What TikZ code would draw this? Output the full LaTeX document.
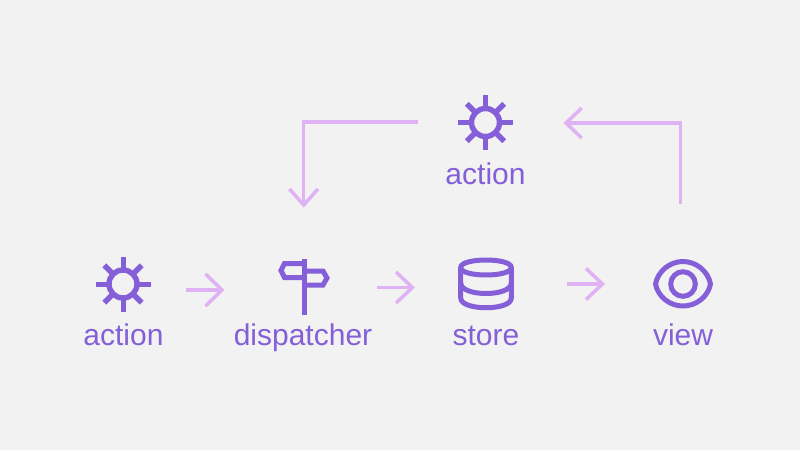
\documentclass[tikz,border=0pt]{standalone}
\usepackage{fontspec}
\setmainfont{Liberation Sans}
\definecolor{bgc}{HTML}{F2F2F2}
\definecolor{iconc}{HTML}{845FD8}
\definecolor{arrc}{HTML}{DFB2F4}
\tikzset{
  x=1pt,y=-1pt,
  icon/.style={draw=iconc,line width=5pt},
  lbl/.style={text=iconc,anchor=base,inner sep=0pt,font=\fontsize{30}{33}\selectfont},
  flow/.style={draw=arrc,line width=3.5pt,line join=miter},
  sun/.pic={
    \draw[icon,line width=5.4pt] (0,0) circle (14);
    \foreach \a in {0,90,180,270}{\draw[icon] (\a:14) -- (\a:27.5);}
    \foreach \a in {45,135,225,315}{\draw[icon,line width=5.6pt] (\a:14) -- (\a:26.5);}
  }
}
\begin{document}
\begin{tikzpicture}
\path[fill=bgc] (0,0) rectangle (800,450);
\useasboundingbox (0,0) rectangle (800,450);
% icons
\pic at (123,284) {sun};
\pic at (485.5,122.5) {sun};
\draw[icon,line join=miter] (304,259) -- (304,315);
\draw[icon,line join=miter] (304,263.5) -- (284.5,263.5) -- (281,270.5) -- (284.5,277.5) -- (304,277.5);
\draw[icon,line join=miter] (304,271) -- (323,271) -- (327,278) -- (323,285) -- (304,285);
% store
\draw[icon] (460.7,267.5) .. controls (460.7,257.5) and (511.3,257.5) .. (511.3,267.5) .. controls (511.3,277.5) and (460.7,277.5) .. (460.7,267.5) -- cycle;
\draw[icon,line join=round] (460.7,267.5) -- (460.7,298) .. controls (460.7,311) and (511.3,311) .. (511.3,298) -- (511.3,267.5);
\draw[icon] (460.7,283) .. controls (460.7,297) and (511.3,297) .. (511.3,283);
% eye
\draw[icon,line join=round] (655.5,284) .. controls (658,271) and (670,261.5) .. (683,261.5) .. controls (696,261.5) and (708,271) .. (710.5,284) .. controls (708,297) and (696,306) .. (683,306) .. controls (670,306) and (658,297) .. (655.5,284) -- cycle;
\draw[icon] (683,284) circle (12.3);
% labels
\node[lbl] (actionA) at (123.5,345) {action};
\node[lbl] (dispatcher) at (303,345) {dispatcher};
\node[lbl] (store) at (486,345) {store};
\node[lbl] (view) at (683,345) {view};
\node[lbl] (actionB) at (485.5,184) {action};
% connectors
\coordinate (a1s) at (186,290); \coordinate (a1e) at (222,290);
\coordinate (a2s) at (377,287.5); \coordinate (a2e) at (412.5,287.5);
\coordinate (a3s) at (567,284); \coordinate (a3e) at (602.5,284);
\coordinate (l1) at (418,122); \coordinate (l2) at (303.7,122); \coordinate (l3) at (303.7,205);
\coordinate (r1) at (680.5,204); \coordinate (r2) at (680.5,123); \coordinate (r3) at (566,123);
\draw[flow] (a1s) -- (a1e); \draw[flow] (205.5,274) -- (a1e) -- (205.5,306);
\draw[flow] (a2s) -- (a2e); \draw[flow] (396,272) -- (a2e) -- (396,303);
\draw[flow] (a3s) -- (a3e); \draw[flow] (586,268.5) -- (a3e) -- (586,299.5);
\draw[flow] (l1) -- (l2) -- (l3); \draw[flow] (289.5,189) -- (l3) -- (318,189);
\draw[flow] (r1) -- (r2) -- (r3); \draw[flow] (581.7,108) -- (r3) -- (581.7,138);
\end{tikzpicture}
\end{document}
